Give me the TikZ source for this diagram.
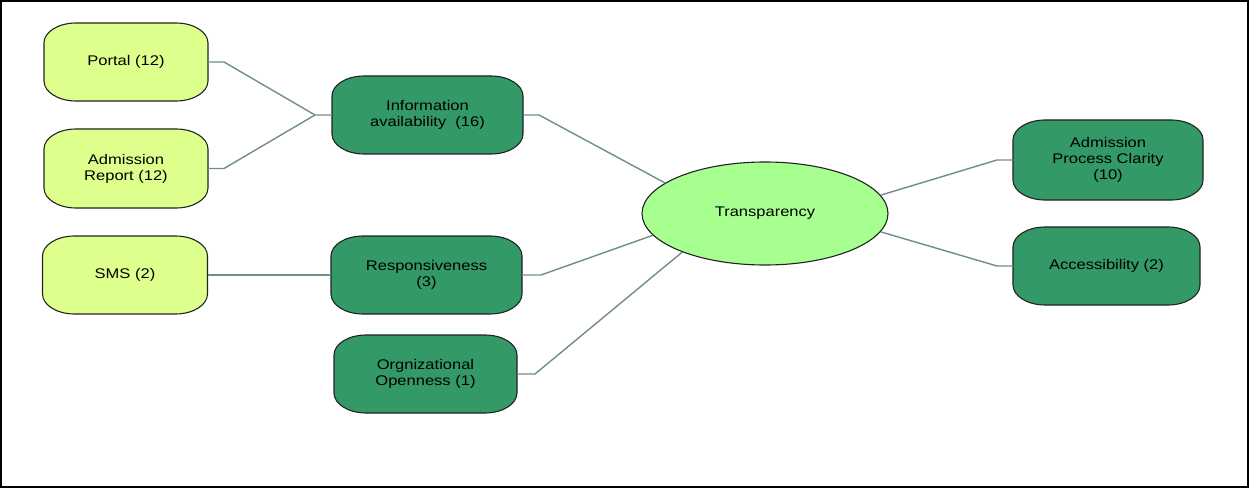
\documentclass[tikz,border=0pt]{standalone}
\usepackage{fontspec}
\setmainfont{Liberation Sans}[FakeStretch=1.18]
\usetikzlibrary{shapes.geometric,backgrounds}
\definecolor{leafyellow}{RGB}{221,255,140}
\definecolor{catgreen}{RGB}{51,153,102}
\definecolor{hubgreen}{RGB}{166,255,143}
\definecolor{linkgray}{RGB}{112,140,140}
\definecolor{edgeblack}{RGB}{34,34,34}
% box with elliptical corners (32pt wide, 20pt tall) behind node #1, filled with #2
\newcommand{\capsule}[2]{%
  \path[draw=edgeblack, line width=1.1pt, fill=#2]
    ([xshift=32pt]#1.north west) -- ([xshift=-32pt]#1.north east)
    arc[start angle=90, end angle=0, x radius=32pt, y radius=20pt]
    -- ([yshift=20pt]#1.south east)
    arc[start angle=0, end angle=-90, x radius=32pt, y radius=20pt]
    -- ([xshift=32pt]#1.south west)
    arc[start angle=270, end angle=180, x radius=32pt, y radius=20pt]
    -- ([yshift=-20pt]#1.north west)
    arc[start angle=180, end angle=90, x radius=32pt, y radius=20pt]
    -- cycle;}
\begin{document}
\begin{tikzpicture}[x=1pt,y=1pt,
  every node/.style={font=\fontsize{14}{16}\selectfont, text=black, align=center, inner sep=0pt},
  box/.style={outer sep=0pt, minimum height=78pt},
  leaf/.style={box, minimum width=164pt},
  cat/.style={box},
  hub/.style={ellipse, draw=edgeblack, line width=1.1pt, fill=hubgreen, minimum width=246pt, minimum height=103pt},
  link/.style={draw=linkgray, line width=1.4pt}]
  % canvas and frame
  \useasboundingbox (0,0) rectangle (1249,488);
  \draw[line width=1.6pt] (1,1) rectangle (1248,487);

  % nodes
  \node[leaf] (portal) at (126,426) {Portal (12)};
  \node[leaf, minimum height=79pt] (areport) at (126,319.5) {Admission\\Report (12)};
  \node[leaf, minimum width=165pt] (sms) at (125,213) {SMS (2)};
  \node[cat, minimum width=191pt] (info) at (427.5,373) {Information\\availability\ \ (16)};
  \node[cat, minimum width=191pt] (resp) at (426.5,213) {Responsiveness\\(3)};
  \node[cat, minimum width=183pt] (org) at (425.5,114) {Orgnizational\\Openness (1)};
  \node[hub] (trans) at (765,274.5) {Transparency};
  \node[cat, minimum width=190pt, minimum height=80pt] (apc) at (1108,328) {Admission\\Process Clarity\\(10)};
  \node[cat, minimum width=187pt] (acc) at (1106.5,222) {Accessibility (2)};

  % box outlines
  \begin{scope}[on background layer]
    \capsule{portal}{leafyellow}
    \capsule{areport}{leafyellow}
    \capsule{sms}{leafyellow}
    \capsule{info}{catgreen}
    \capsule{resp}{catgreen}
    \capsule{org}{catgreen}
    \capsule{apc}{catgreen}
    \capsule{acc}{catgreen}
  \end{scope}

  % elbow points of the connectors
  \coordinate (jinfo) at (315,373);
  \coordinate (jportal) at (224,426);
  \coordinate (jreport) at (224,319.5);
  \coordinate (jinfoR) at (539,373);
  \coordinate (jresp) at (541,213);
  \coordinate (jorg) at (535,114);
  \coordinate (japc) at (997,328);
  \coordinate (jacc) at (997,222);

  % connectors
  \draw[link] (portal.east) -- (jportal) -- (jinfo) -- (info.west);
  \draw[link] (areport.east) -- (jreport) -- (jinfo);
  \draw[link] (sms.east) -- (resp.west);
  \draw[link] (info.east) -- (jinfoR) -- (trans.163);
  \draw[link] (resp.east) -- (jresp) -- (trans.191);
  \draw[link] (org.east) -- (jorg) -- (trans.205);
  \draw[link] (trans.9) -- (japc) -- (apc.west);
  \draw[link] (trans.351) -- (jacc) -- (acc.west);
\end{tikzpicture}
\end{document}
